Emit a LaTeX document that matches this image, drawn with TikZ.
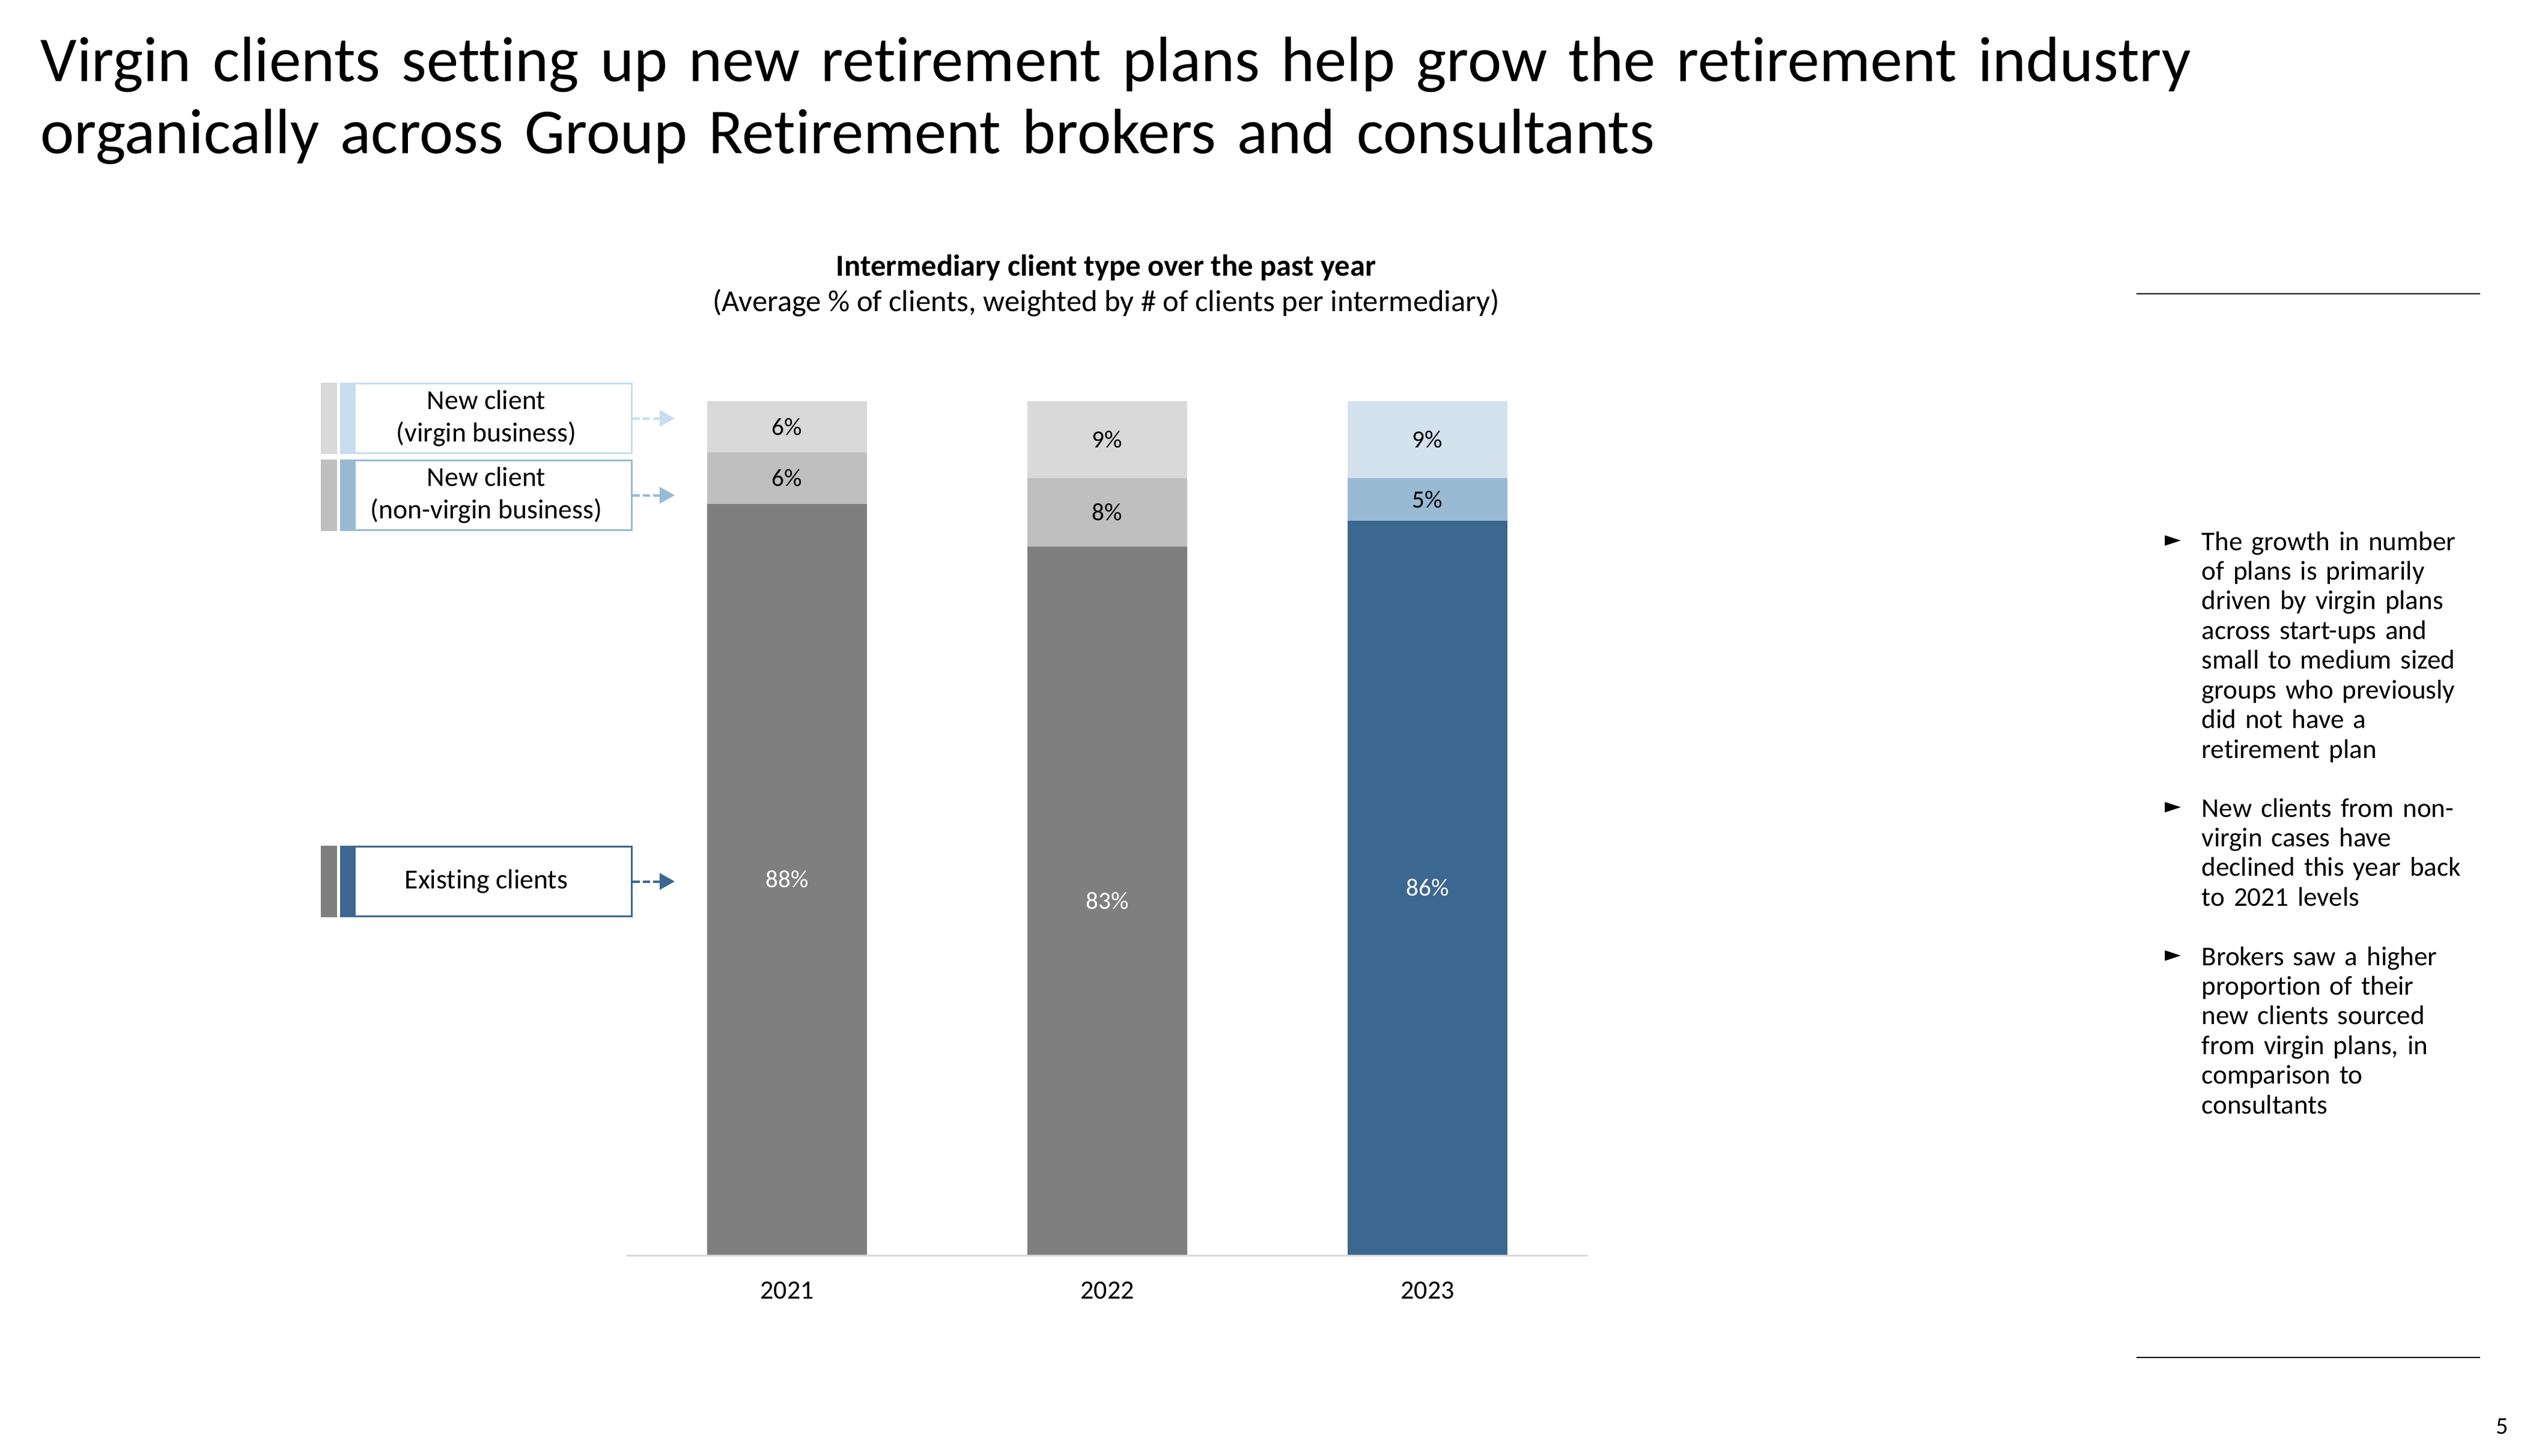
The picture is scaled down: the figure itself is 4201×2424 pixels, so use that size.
\documentclass[tikz,border=0pt]{standalone}
\usepackage{fontspec}
\setmainfont{Carlito}[Ligatures={NoCommon}]
\newfontfamily\pointerfont{DejaVu Sans}
\usetikzlibrary{%
   arrows.meta,%
   positioning%
}
\definecolor{greyA}{HTML}{D9D9D9}
\definecolor{greyB}{HTML}{BFBFBF}
\definecolor{greyC}{HTML}{7F7F7F}
\definecolor{blueA}{HTML}{D3E2ED}
\definecolor{blueB}{HTML}{98BAD3}
\definecolor{blueC}{HTML}{3B6790}
\definecolor{keyA}{HTML}{C6DEEF}

\begin{document}
\begin{tikzpicture}[x=0.01cm,y=-0.01cm,seg/.style={
	rectangle,
	inner sep=0pt,outer sep=0pt,
	minimum width=2.66cm,
	minimum height=#1*0.142cm,
	font=\fontsize{11.7}{14}\selectfont
	},key/.style={
	rectangle,inner sep=0pt,
	line width=0.03cm,fill=white,
	minimum width=4.84cm,minimum height=1.16cm,
	align=center,font=\fontsize{13}{15.6}\selectfont
	},keyarrow/.style={
	line width=0.04cm,dash pattern=on 0.12cm off 0.05cm,
	-{Triangle[width=0.27cm,length=0.25cm]}
	},year/.style={
	anchor=base,font=\fontsize{12.5}{15}\selectfont
	},note/.style={
	anchor=base west,text width=6cm,align=left,inner sep=0pt,
	font=\fontsize{12.8}{14.06}\selectfont
	},pointer/.style={
	anchor=center,inner sep=0pt,font=\pointerfont\fontsize{10}{12}\selectfont
	},rule/.style={
	line width=0.025cm,black
	}
]
\useasboundingbox (0,0) rectangle (4201,2424);
\fill[white] (0,0) rectangle (4201,2424);

% Title
\node (title) [anchor=base west,text width=40cm,align=left,inner sep=0pt,
  font=\fontsize{30.3}{33.9}\selectfont] at (67,136)
  {Virgin clients setting up new retirement plans help grow the retirement industry\\organically across Group Retirement brokers and consultants};

\node (ctitle) [anchor=base,align=center,inner sep=0pt,
  font=\fontsize{14.4}{16.6}\selectfont] at (1841,518)
  {\textbf{Intermediary client type over the past year}\\(Average \% of clients, weighted by \# of clients per intermediary)};

% Bars
\node (v21) [seg=6,fill=greyA,anchor=north west] at (1177,668) {6\%};
\node (n21) [seg=6,fill=greyB,below=0pt of v21] {6\%};
\node (e21) [seg=88,fill=greyC,text=white,below=0pt of n21] {88\%};

\node (v22) [seg=9,fill=greyA,anchor=north west] at (1710,668) {9\%};
\node (n22) [seg=8,fill=greyB,below=0pt of v22] {8\%};
\node (e22) [seg=83,fill=greyC,text=white,below=0pt of n22] {83\%};

\node (v23) [seg=9,fill=blueA,anchor=north west] at (2243,668) {9\%};
\node (n23) [seg=5,fill=blueB,below=0pt of v23] {5\%};
\node (e23) [seg=86,fill=blueC,text=white,below=0pt of n23] {86\%};

\draw[greyA,line width=0.03cm] (1043,2090) -- (2643,2090);

\node (y21) [year] at ([yshift=-0.74cm]e21.south) {2021};
\node (y22) [year] at ([yshift=-0.74cm]e22.south) {2022};
\node (y23) [year] at ([yshift=-0.74cm]e23.south) {2023};

% Legend
\node (kv) [key,draw=keyA] at (809.5,696.5) {New client\\(virgin business)};
\node (kn) [key,draw=blueB] at (809.5,824.5) {New client\\(non-virgin business)};
\node (ke) [key,draw=blueC] at (809.5,1467.5) {Existing clients};

\fill[keyA] (kv.north west) rectangle ([xshift=0.26cm]kv.south west);
\fill[blueB] (kn.north west) rectangle ([xshift=0.26cm]kn.south west);
\fill[blueC] (ke.north west) rectangle ([xshift=0.26cm]ke.south west);
\fill[greyA] ([xshift=-0.315cm]kv.north west) rectangle ([xshift=-0.045cm]kv.south west);
\fill[greyB] ([xshift=-0.315cm]kn.north west) rectangle ([xshift=-0.045cm]kn.south west);
\fill[greyC] ([xshift=-0.315cm]ke.north west) rectangle ([xshift=-0.045cm]ke.south west);

\coordinate (kvend) at (1123,696.5);
\coordinate (knend) at (1123,824.5);
\coordinate (keend) at (1123,1467.5);
\draw[keyarrow,keyA] (kv.east) -- (kvend);
\draw[keyarrow,blueB] (kn.east) -- (knend);
\draw[keyarrow,blueC] (ke.east) -- (keend);

% Right column
\draw[rule] (3556,489) -- (4128,489);
\draw[rule] (3556,2260) -- (4128,2260);

\node (p1) [pointer] at (3617,901) {►};
\node (t1) [note] at (3664,916) {The growth in number\\of plans is primarily\\driven by virgin plans\\across start-ups and\\small to medium sized\\groups who previously\\did not have a\\retirement plan};
\node (p2) [pointer] at (3617,1345) {►};
\node (t2) [note] at (3664,1360) {New clients from non-\\virgin cases have\\declined this year back\\to 2021 levels};
\node (p3) [pointer] at (3617,1592) {►};
\node (t3) [note] at (3664,1607) {Brokers saw a higher\\proportion of their\\new clients sourced\\from virgin plans, in\\comparison to\\consultants};

\node (page) [anchor=base,inner sep=0pt,font=\fontsize{11.4}{13}\selectfont] at (4165,2387) {5};

\end{tikzpicture}
\end{document}
